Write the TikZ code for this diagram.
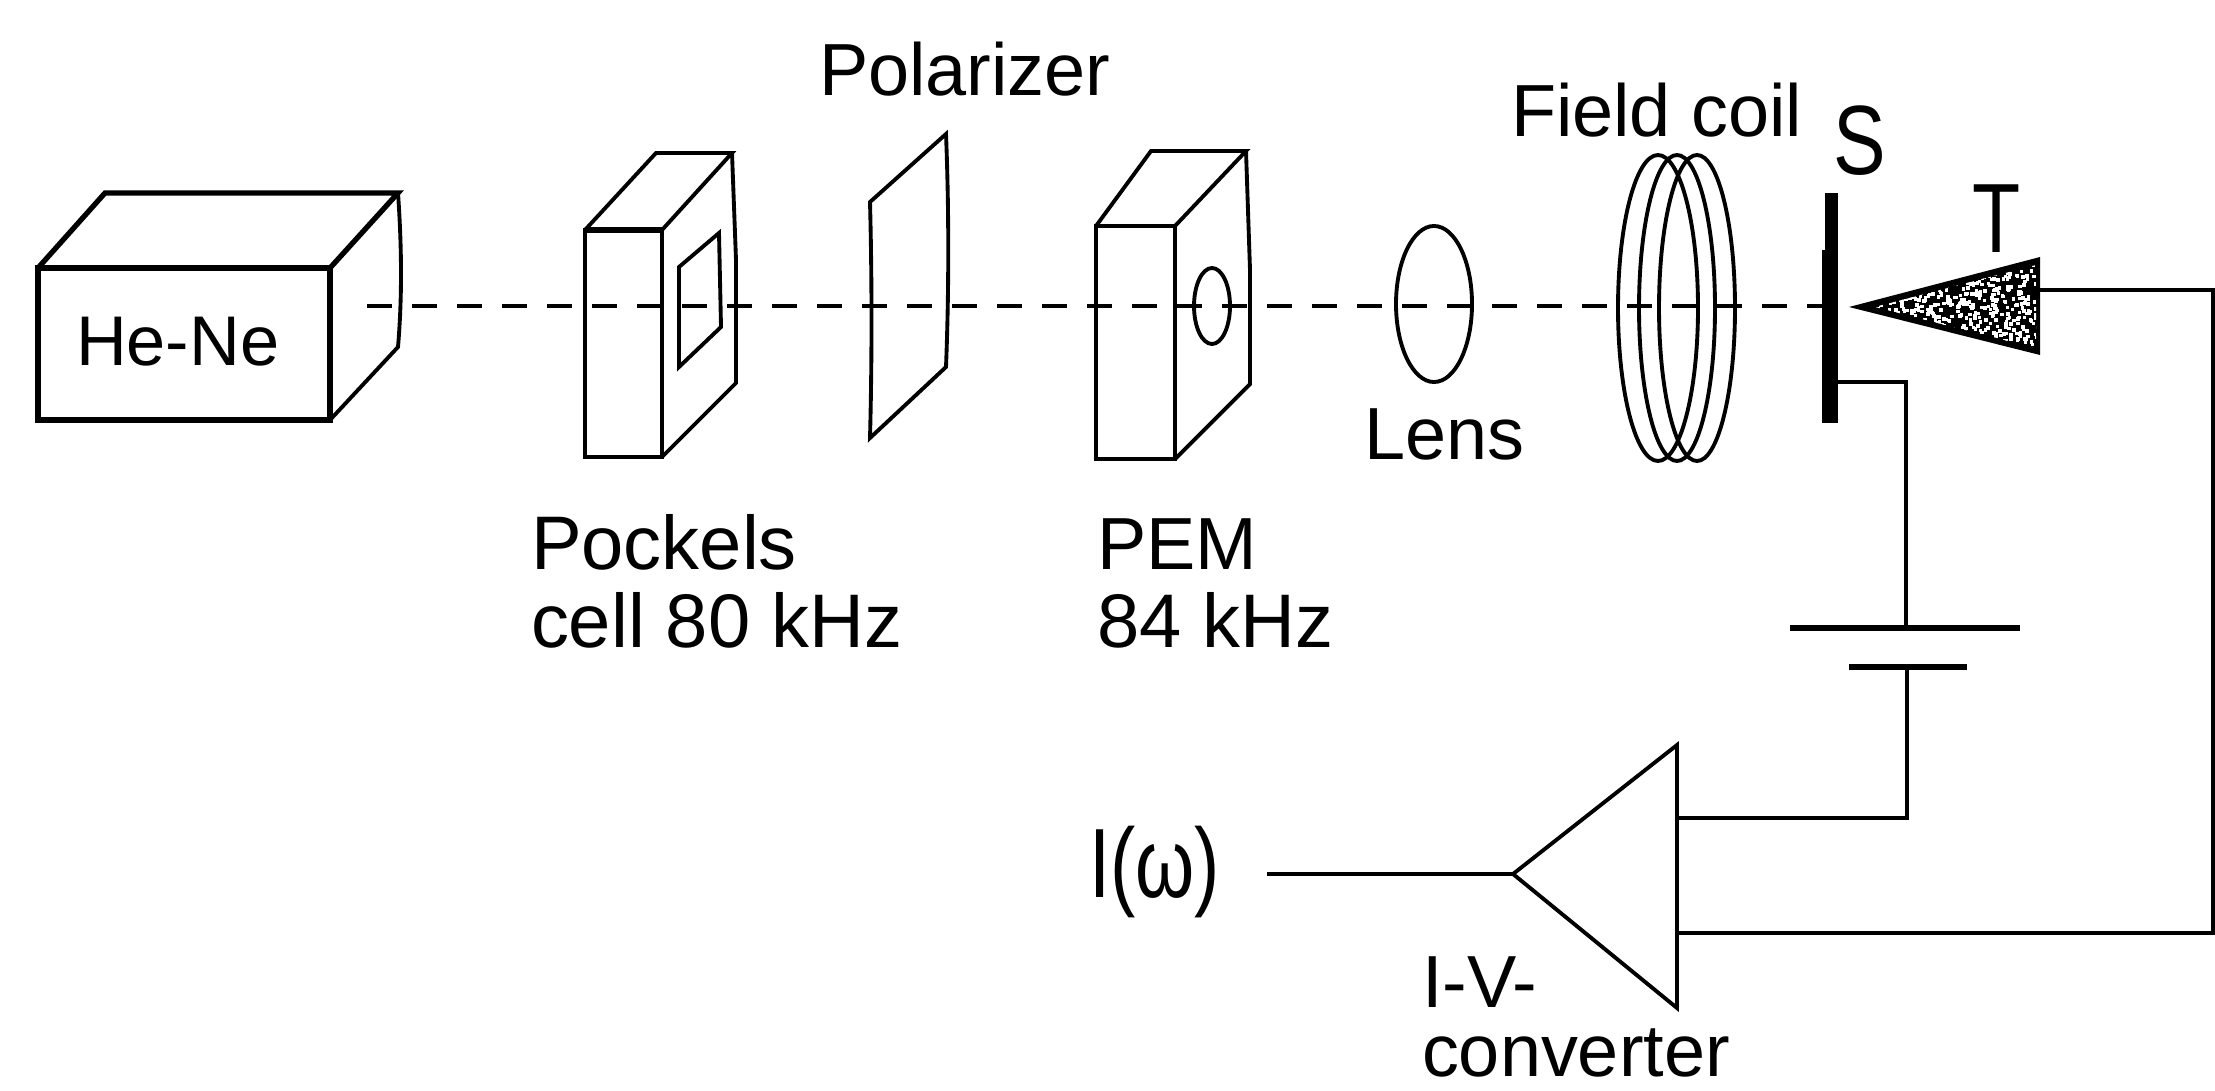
\documentclass[tikz,border=0pt]{standalone}
\usepackage{fontspec}
\setmainfont{Liberation Sans}
\newcommand{\txtsz}{\fontsize{21}{25}\selectfont}
\newcommand{\wdsz}{\fontsize{21.6}{25}\selectfont}
\newcommand{\bigsz}{\fontsize{28}{32}\selectfont}
\tikzset{
  ln/.style={line width=1.1pt,line join=miter,black},
  hv/.style={line width=1.5pt,line join=miter,black},
  wire/.style={line width=1.3pt,line join=miter,black},
  beam/.style={line width=1.1pt,dash pattern=on 7pt off 5.8pt,black},
  lbl/.style={anchor=base west,inner sep=0pt,outer sep=0pt,font=\txtsz},
  biglbl/.style={anchor=base west,inner sep=0pt,outer sep=0pt,font=\bigsz,xscale=.8},
}
\begin{document}
\begin{tikzpicture}[x=0.01cm,y=-0.01cm]
\useasboundingbox (0,0) rectangle (2215,1091);
% beam
\coordinate (beamstart) at (367,306);
\coordinate (beamend) at (1826,306);
\draw[beam] (beamstart) -- (beamend);
% He-Ne
\draw[hv] (38,268) rectangle (330,420);
\draw[hv] (38,268) -- (105,193) -- (398,193) -- (330,268);
\draw[ln] (398,193) .. controls (402,250) and (402,300) .. (398,347) -- (330,420);
\node[lbl,font=\fontsize{20}{24}\selectfont] (heNe) at (76,365) {He-Ne};
% Pockels
\draw[ln] (585,230) rectangle (662,457);
\draw[hv] (585,230) -- (662,230);
\draw[ln] (585,230) -- (656,153) -- (732,153) -- (662,230);
\draw[ln] (732,153) -- (736,260) -- (736,383) -- (662,457);
\draw[ln] (679,267) -- (719,233) -- (721,327) -- (679,367) -- cycle;
\node[lbl,font=\wdsz] (pockA) at (531,569) {Pockels};
\node[lbl,font=\wdsz] (pockB) at (531,647) {cell 80 kHz};
% Polarizer
\draw[ln] (870,202) -- (946,134) .. controls (949,210) and (949,290) .. (946,367) -- (870,438) .. controls (872,360) and (872,280) .. (870,202) -- cycle;
\node[lbl] (polar) at (819,96) {Polarizer};
% PEM
\draw[ln] (1096,226) rectangle (1175,459);
\draw[ln] (1096,226) -- (1151,151) -- (1246,151) -- (1175,226);
\draw[ln] (1246,151) -- (1250,270) -- (1250,384) -- (1175,459);
\draw[ln] (1212,306) ellipse [x radius=18,y radius=38];
\node[lbl] (pemA) at (1097,569) {PEM};
\node[lbl,font=\wdsz] (pemB) at (1097,647) {84 kHz};
% Lens
\draw[ln] (1434,304) ellipse [x radius=38,y radius=78];
\node[lbl] (lens) at (1364,459) {Lens};
% Coil
\draw[ln] (1658,308) ellipse [x radius=40,y radius=153];
\draw[ln] (1677,308) ellipse [x radius=38,y radius=153];
\draw[ln] (1697,308) ellipse [x radius=38,y radius=153];
\node[lbl] (coil) at (1511,137) {Field coil};
% Sample
\fill[black] (1825,193) rectangle (1838,423);
\fill[black] (1822,250) rectangle (1838,423);
\coordinate (sout) at (1838,382);
\node[biglbl] (S) at (1833,175) {S};
% Tip
\coordinate (tipA) at (1849,307);
\coordinate (tipB) at (2040,257);
\coordinate (tipC) at (2040,355);
\fill[black] (tipA) -- (tipB) -- (tipC) -- cycle;
\begin{scope}
  \clip (1875,307) -- (2036,265) -- (2036,348) -- cycle;
  \pgfmathsetseed{7}
  \foreach \i in {1,...,650}{
    \pgfmathsetmacro{\px}{1875+rnd*161}
    \pgfmathsetmacro{\py}{262+rnd*90}
    \fill[white] (\px,\py) rectangle ++(3.5,3.5);
  }
\end{scope}
\node[biglbl] (T) at (1972,252) {T};
% wires
\coordinate (tipwire) at (2040,290);
\coordinate (rightTop) at (2213,290);
\coordinate (rightBot) at (2213,933);
\coordinate (plateAl) at (1790,628);
\coordinate (plateAr) at (2020,628);
\coordinate (plateBl) at (1849,667);
\coordinate (plateBr) at (1967,667);
\coordinate (plateAc) at (1906,628);
\coordinate (plateBc) at (1907,667);
\coordinate (sbend) at (1906,382);
\coordinate (ampbend) at (1907,818);
\coordinate (ampIn) at (1677,818);
\coordinate (ampGnd) at (1677,933);
\coordinate (ampTop) at (1677,745);
\coordinate (ampBot) at (1677,1008);
\coordinate (ampTip) at (1513,874);
\coordinate (outEnd) at (1267,874);
\draw[wire] (tipwire) -- (rightTop) -- (rightBot) -- (ampGnd);
\draw[wire] (sout) -- (sbend) -- (plateAc);
\draw[hv] (plateAl) -- (plateAr);
\draw[line width=1.7pt] (plateBl) -- (plateBr);
\draw[wire] (plateBc) -- (ampbend) -- (ampIn);
\draw[ln] (ampTop) -- (ampTip) -- (ampBot) -- cycle;
\draw[wire] (ampTip) -- (outEnd);
\node[lbl,font=\bigsz,xscale=.77] (iw) at (1089,897) {I(ω)};
\node[lbl] (ivA) at (1422,1007) {I-V-};
\node[lbl] (ivB) at (1422,1076) {converter};
\end{tikzpicture}
\end{document}
